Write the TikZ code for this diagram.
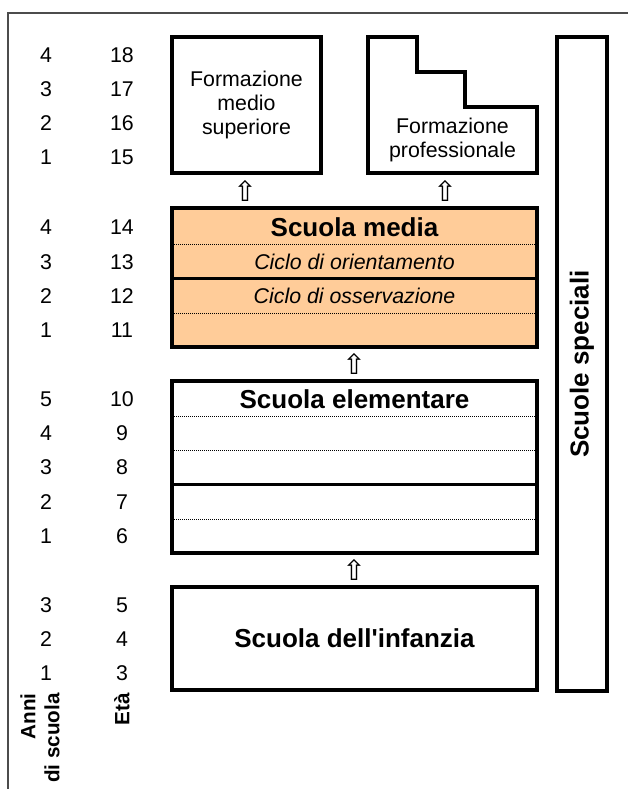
\documentclass[tikz,border=0pt]{standalone}
\usepackage{fontspec}
\setmainfont{Liberation Sans}
\newfontfamily\arrowfont{DejaVu Sans}
\definecolor{mediafill}{HTML}{FFCC99}

\begin{document}
\begin{tikzpicture}[
    x=0.75pt, y=-0.75pt,
    box/.style={draw,line width=3pt},
    rowline/.style={line width=0.75pt,dash pattern=on 0.75pt off 0.75pt},
    cycleline/.style={line width=2.25pt},
    num/.style={font=\fontsize{16}{18}\selectfont},
    boxtitle/.style={font=\bfseries\fontsize{19.5}{22}\selectfont},
    cyclabel/.style={font=\itshape\fontsize{16}{18}\selectfont},
    axislabel/.style={rotate=90,anchor=east,inner sep=0pt,
        font=\bfseries\fontsize{15.5}{18}\selectfont},
    uparrow/.style={font=\arrowfont\fontsize{21}{21}\selectfont,inner sep=0pt}
]
\useasboundingbox (0,0) rectangle (628,789);

% outer frame
\draw[black!70,line width=1pt] (8,789) -- (8,13) -- (628,13);

% upper level
\draw[box] (172,37) rectangle (321,173);
\node[num,align=center] (sup) at (246.5,105) {Formazione\\medio\\superiore};
\draw[box] (368,37) -| (417,72) -| (465,107) -| (537,173) -| (368,37) -- cycle;
\node[num,align=center] (prof) at (452.5,140) {Formazione\\professionale};

% scuola media
\draw[box,fill=mediafill] (172,208) rectangle (537,347);
\draw[rowline] (172,244) -- (537,244);
\draw[cycleline] (172,278) -- (537,278);
\draw[rowline] (172,313) -- (537,313);
\draw[box] (172,208) rectangle (537,347);
\node[boxtitle] (media) at (354.5,227) {Scuola media};
\node[cyclabel] (orient) at (354.5,262) {Ciclo di orientamento};
\node[cyclabel] (osserv) at (354.5,296) {Ciclo di osservazione};

% scuola elementare
\foreach \ypos in {416,450,519}
  \draw[rowline] (172,\ypos) -- (537,\ypos);
\draw[cycleline] (172,484) -- (537,484);
\draw[box] (172,381) rectangle (537,553);
\node[boxtitle] (elem) at (354.5,399) {Scuola elementare};

% scuola dell'infanzia
\draw[box] (172,587) rectangle (537,690);
\node[boxtitle] (inf) at (354.5,638) {Scuola dell\textquotesingle infanzia};

% scuole speciali
\draw[box] (557,37) rectangle (607,691);
\node[boxtitle,rotate=90] (spec) at (582,364) {Scuole speciali};

% arrows
\node[uparrow] (up1) at (245,191) {⇧};
\node[uparrow] (up2) at (445,191) {⇧};
\node[uparrow] (up3) at (354,364) {⇧};
\node[uparrow] (up4) at (354,570) {⇧};

% years and ages
\foreach \yr/\age/\ypos in {4/18/55,3/17/89,2/16/123,1/15/157,
    4/14/227,3/13/262,2/12/296,1/11/330,
    5/10/399,4/9/433,3/8/467,2/7/502,1/6/536,
    3/5/605,2/4/639,1/3/673}{
  \node[num] (yr\age) at (46,\ypos) {\yr};
  \node[num] (age\age) at (122,\ypos) {\age};
}
\node[axislabel,align=right] (anni) at (40,693) {Anni\\di scuola};
\node[axislabel] (eta) at (122,693) {Età};
\end{tikzpicture}
\end{document}
